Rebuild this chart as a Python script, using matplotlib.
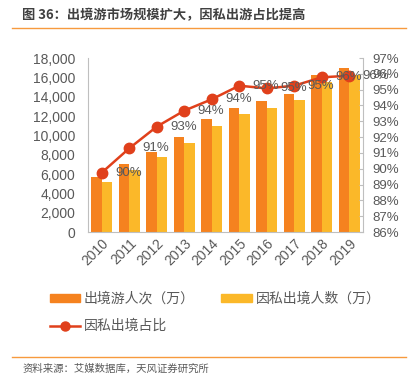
import matplotlib
matplotlib.use("Agg")
import matplotlib.pyplot as plt
from matplotlib.lines import Line2D
from matplotlib.patches import Patch

plt.rcParams["font.family"] = ["Liberation Sans", "Noto Sans CJK SC", "DejaVu Sans"]
plt.rcParams["axes.unicode_minus"] = False

years = ["2010", "2011", "2012", "2013", "2014", "2015", "2016", "2017", "2018", "2019"]
outbound = [5720, 7030, 8307, 9860, 11660, 12795, 13517, 14276, 16241, 16930]
private = [5140, 6414, 7720, 9240, 11000, 12207, 12862, 13620, 15552, 16241]
share = [89.75, 91.29, 92.66, 93.67, 94.39, 95.25, 95.08, 95.25, 95.78, 95.88]

ORANGE = "#F5821F"
YELLOW = "#FBB829"
RED = "#E0401B"
GRAY = "#595959"
AXC = "#BFBFBF"
CJK = ["Noto Sans CJK SC", "DejaVu Sans"]

fig = plt.figure(figsize=(4.16, 3.75), dpi=100)
ax = fig.add_axes([0.2115, 0.3813, 0.661, 0.464])
x = list(range(len(years)))
w = 0.385
ax.bar([i - w / 2 for i in x], outbound, width=w, color=ORANGE, zorder=2)
ax.bar([i + w / 2 for i in x], private, width=w, color=YELLOW, zorder=2)
ax.set_xlim(-0.5, len(years) - 0.5)
ax.set_ylim(0, 18000)
ax.set_yticks(range(0, 18001, 2000))
ax.set_yticklabels([f"{v:,}" for v in range(0, 18001, 2000)])
ax.set_xticks(x)
ax.set_xticklabels(years, rotation=45, ha="right", rotation_mode="anchor")
for s in ("top", "right"):
    ax.spines[s].set_visible(False)
for s in ("left", "bottom"):
    ax.spines[s].set_color(AXC)
ax.tick_params(axis="y", colors=GRAY, labelsize=10, length=0, pad=9)
ax.tick_params(axis="x", colors=GRAY, labelsize=10, length=0, pad=3)

ax2 = ax.twinx()
ax2.plot(x, share, color=RED, lw=1.8, marker="o", ms=7.5, zorder=3)
ax2.set_ylim(86, 97)
ax2.set_yticks(range(86, 98))
ax2.set_yticklabels([f"{v}%" for v in range(86, 98)])
for s in ("top", "left", "bottom"):
    ax2.spines[s].set_visible(False)
ax2.spines["right"].set_color(AXC)
ax2.tick_params(axis="y", colors=GRAY, labelsize=9.5, length=3, direction="in", color=AXC, pad=7)
for i, v in enumerate(share):
    ax2.annotate(f"{round(v)}%", (i, v), xytext=(9.5, 0), textcoords="offset points",
                 ha="left", va="center", fontsize=9.5, color=GRAY, zorder=4)

# title, rules, source
fig.text(0.053, 0.96, "图 36：出境游市场规模扩大，因私出游占比提高", fontsize=9.5,
         fontweight="bold", color="#404040", family=CJK, va="center")
fig.add_artist(Line2D([0.03, 0.975], [0.925, 0.925], color="#F79A3E", lw=1))
fig.add_artist(Line2D([0.03, 0.975], [0.049, 0.049], color="#F79A3E", lw=1))
fig.text(0.053, 0.018, "资料来源：艾媒数据库，天风证券研究所", fontsize=7.5, color=GRAY,
         family=CJK, va="center")

handles = [Patch(color=ORANGE), Line2D([], [], color=RED, lw=1.8, marker="o", ms=6.5),
           Patch(color=YELLOW)]
labels = ["出境游人次（万）", "因私出境占比", "因私出境人数（万）"]
leg = fig.legend(handles, labels, loc="upper left", bbox_to_anchor=(0.12, 0.222), ncol=2,
                 frameon=False, prop={"family": CJK, "size": 10}, handlelength=2.2,
                 handleheight=0.5, columnspacing=1.9, labelspacing=0.95, handletextpad=0.25,
                 borderpad=0, borderaxespad=0)
for t in leg.get_texts():
    t.set_color(GRAY)

fig.savefig("out.png", dpi=100)
